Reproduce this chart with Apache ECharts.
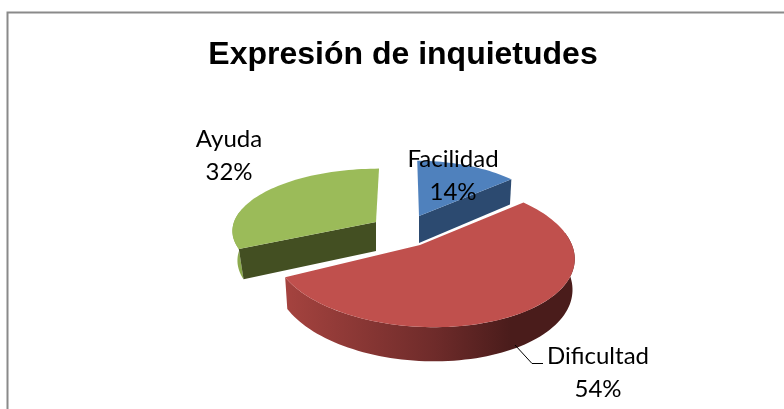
<!DOCTYPE html>
<html>
<head>
<meta charset="utf-8">
<style>
  html, body { margin: 0; padding: 0; background: #fff; }
  #chart { width: 784px; height: 409px; }
</style>
<script src="https://cdn.jsdelivr.net/npm/echarts@6/dist/echarts.min.js"></script>
</head>
<body>
<div id="chart"></div>
<script>
// values
var categories = ['Facilidad', 'Dificultad', 'Ayuda']
var shares = [14, 54, 32]

// paint back to front, the big slice goes last
var drawOrder = [2, 0, 1]

// where each exploded slice sits on the page (same order as categories)
var sliceBox = [
  { ax: 419, cx: 419, cy: 216, rx: 131, ry: 62, skew: -2, depth: 27, shrink: 0.985 },
  { ax: 420, cx: 423, cy: 245, rx: 149, ry: 72, skew: -10, depth: 30, shrink: 0.985 },
  { ax: 376, cx: 376, cy: 222, rx: 142, ry: 60, skew: 3.4, depth: 29, shrink: 0.965 }
]
var labelPos = [[453, 176], [598, 373], [229, 156]]
var topColors = ['#4F81BD', '#C0504D', '#9BBB59']
var wallColors = ['#2C4A70', '#4A1C1B', '#434F22']
var rimColors = [
  '#2C4A70',
  new echarts.graphic.LinearGradient(0, 0, 1, 0, [
    { offset: 0, color: '#A5433F' },
    { offset: 0.52, color: '#6E2B2A' },
    { offset: 0.78, color: '#4A1C1B' },
    { offset: 1, color: '#4A1C1B' }
  ]),
  '#8CAA4D'
]
var perspective = 0.124

var total = shares.reduce(function (a, b) { return a + b }, 0)

function sliceAngles(i) {
  var before = 0
  for (var k = 0; k < i; k++) before += shares[k]
  return [before / total * 360, (before + shares[i]) / total * 360]
}

// flat pie plane -> screen, with a little perspective so the far side shrinks
function project(box, deg, isBottom) {
  var t = deg * Math.PI / 180
  var u = Math.sin(t)
  var v = Math.cos(t)
  var s = 1 / (1 + perspective * v)
  if (isBottom) {
    return [box.cx + (box.rx * box.shrink * u + box.skew * v) * s, box.cy + box.depth - box.ry * 1.05 * v * s]
  }
  return [box.cx + (box.rx * u + box.skew * v) * s, box.cy - box.ry * v * s]
}

function arcPoints(box, a0, a1, isBottom) {
  var pts = []
  var n = Math.ceil((a1 - a0) / 2)
  for (var k = 0; k <= n; k++) {
    pts.push(project(box, a0 + (a1 - a0) * k / n, isBottom))
  }
  return pts
}

function renderSlice(params, api) {
  var i = api.value(0)
  var box = sliceBox[i]
  var ang = sliceAngles(i)
  var a0 = ang[0]
  var a1 = ang[1]
  var apex = [box.ax, box.cy]
  var apexLow = [box.ax, box.cy + box.depth]
  var kids = []

  // outer wall only faces us around the near half
  var rimFrom = Math.max(a0, 80)
  var rimTo = Math.min(a1, 280)
  if (rimFrom < rimTo) {
    kids.push({
      type: 'polygon',
      shape: { points: arcPoints(box, rimFrom, rimTo, false).concat(arcPoints(box, rimFrom, rimTo, true).reverse()) },
      style: { fill: rimColors[i] }
    })
  }

  // a cut face only shows when it turns towards the viewer
  var faces = []
  if (Math.sin(a0 * Math.PI / 180) < -0.001) faces.push(a0)
  if (Math.sin(a1 * Math.PI / 180) > 0.001) faces.push(a1)
  faces.forEach(function (a) {
    kids.push({
      type: 'polygon',
      shape: { points: [apex, project(box, a, false), project(box, a, true), apexLow] },
      style: { fill: wallColors[i] }
    })
  })

  kids.push({
    type: 'polygon',
    shape: { points: [apex].concat(arcPoints(box, a0, a1, false)) },
    style: { fill: topColors[i] }
  })

  kids.push({
    type: 'text',
    z2: 100,
    style: {
      x: labelPos[i][0],
      y: labelPos[i][1],
      text: categories[i] + '\n' + shares[i] + '%',
      align: 'center',
      verticalAlign: 'middle',
      lineHeight: 33,
      font: '24px Lato',
      fill: '#000'
    }
  })

  return { type: 'group', children: kids }
}

var chart = echarts.init(document.getElementById('chart'), null, { renderer: 'canvas' })
chart.setOption({
  animation: false,
  title: {
    text: 'Expresión de inquietudes',
    left: 398,
    top: 34,
    textAlign: 'center',
    textStyle: { fontFamily: 'Liberation Sans', fontWeight: 'bold', fontSize: 32, color: '#000' }
  },
  graphic: [
    {
      type: 'polyline',
      shape: { points: [[7.5, 409], [7.5, 12.5], [784, 12.5]] },
      style: { fill: 'none', stroke: '#8A8A8A', lineWidth: 2 },
      silent: true
    },
    {
      type: 'polyline',
      shape: { points: [[515, 345], [532, 363.5], [543, 363.5]] },
      style: { fill: 'none', stroke: '#000', lineWidth: 1 },
      silent: true,
      z: 10
    }
  ],
  series: [
    {
      type: 'custom',
      coordinateSystem: 'none',
      renderItem: renderSlice,
      silent: true,
      data: drawOrder.map(function (i) { return [i] })
    }
  ]
})
</script>
</body>
</html>
